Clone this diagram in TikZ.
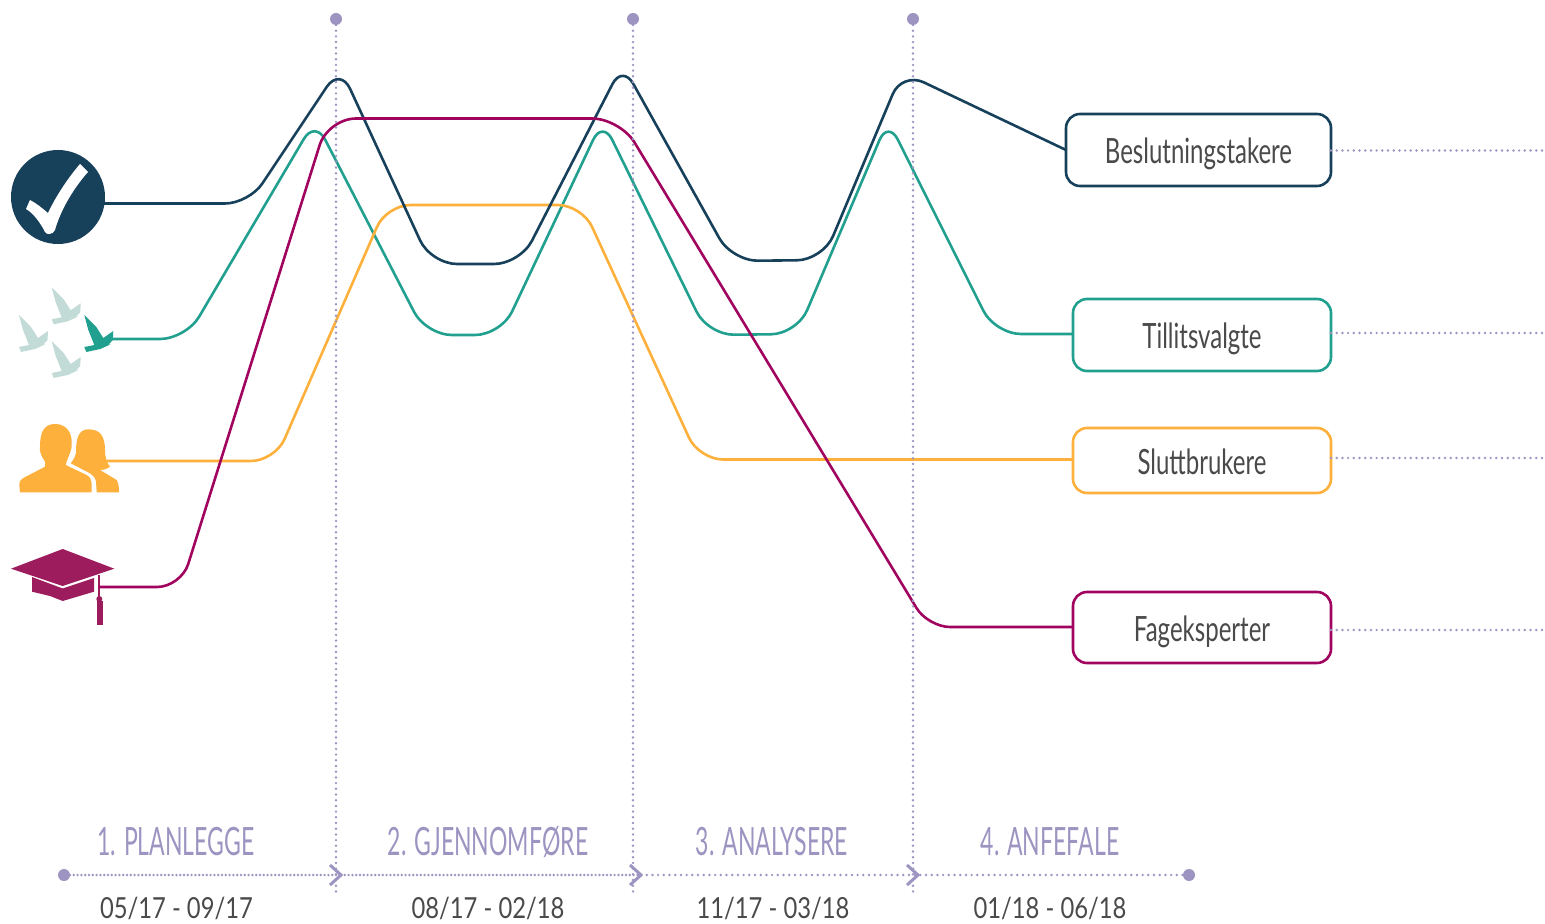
\documentclass[tikz,border=0pt]{standalone}
\usepackage{fontspec}
\newfontfamily\phasefont[FakeStretch=0.59]{Lato}
\newfontfamily\boxfont[FakeStretch=0.69]{Lato}
\newfontfamily\datefont[FakeStretch=0.82]{Lato}
\usetikzlibrary{calc}
\definecolor{dkblue}{HTML}{17405A}
\definecolor{tealc}{HTML}{22A08F}
\definecolor{orangec}{HTML}{FDB13C}
\definecolor{magc}{HTML}{A0045F}
\definecolor{capc}{HTML}{9C1C5E}
\definecolor{lav}{HTML}{9D94C1}
\definecolor{birdl}{HTML}{C2DBD6}
\definecolor{txt}{HTML}{4A4A4A}
\tikzset{
  flow/.style={line width=1.3pt,line join=round},
  dots/.style={lav,line width=1.35pt,line cap=round,dash pattern=on 0pt off 2.85pt},
  dotsdense/.style={lav,line width=1.35pt,line cap=round,dash pattern=on 0pt off 1.9pt},
  endpt/.style={circle,fill=lav,draw=none,inner sep=0pt,outer sep=0pt,minimum size=6pt},
  stakebox/.style={draw=#1,fill=white,line width=1.3pt,rounded corners=7pt,inner sep=0pt,outer sep=0pt,
    text=txt,font=\boxfont\fontsize{17.4}{20}\selectfont,text height=15pt,text depth=1pt,align=center},
  phase/.style={anchor=base,text=lav,font=\phasefont\fontsize{19.5}{22}\selectfont,inner sep=0pt},
  datelbl/.style={anchor=base,text=txt,font=\datefont\fontsize{14.5}{17}\selectfont,inner sep=0pt},
  chev/.style={lav,line width=1.5pt},
  bird/.pic={\fill[pic actions] (0,0) -- (12,12) -- (19,23) -- (29,16) -- (28.5,25) -- (24,30) -- (27,29) -- (16,34) -- (2,37) -- (0,32) -- (10,30) -- (4,15) -- cycle;}
}
\begin{document}
\begin{tikzpicture}[x=0.5pt,y=-0.5pt]
\useasboundingbox (0,0) rectangle (1545,924);
% icons
\node[circle,fill=dkblue,inner sep=0pt,outer sep=0pt,minimum size=47pt] (check) at (58,197) {};
\fill[white] (88,172) -- (80,164) .. controls (68,178) and (56,196) .. (48,213) .. controls (42,208) and (36,203) .. (30,200) -- (26,209) .. controls (33,213) and (40,222) .. (45,232) .. controls (46,235) and (53,235) .. (55,230) .. controls (60,212) and (72,190) .. (88,172) -- cycle;
\pic[birdl] at (51.7,287.3) {bird};
\pic[birdl] at (19,315) {bird};
\pic[birdl] at (51.7,341) {bird};
\pic[tealc] at (84.3,315) {bird};
\fill[orangec] (20,492.3) -- (19.3,485) .. controls (19.5,481) and (21,479) .. (23.3,478) -- (45,466.7) -- (45,461.7) .. controls (41,456) and (39,450) .. (40,446.7) .. controls (40,432) and (44,424) .. (55,424) .. controls (66,424) and (72,432) .. (71.7,443.3) .. controls (72,452) and (68,456) .. (66.7,461.7) -- (65.7,465) -- (86.7,475) .. controls (90,477) and (91.7,480) .. (91.7,483.3) -- (91.7,492.3) -- cycle;
\fill[orangec] (96.7,492.3) -- (96,481.7) .. controls (95.5,478) and (93,475) .. (90,473.3) -- (70.7,463.3) .. controls (75,458) and (76,454) .. (76,451.7) .. controls (76,440) and (78,429.3) .. (88.3,429.3) .. controls (100,429.3) and (105,436) .. (105,450) .. controls (105,458) and (107,463) .. (110,466.7) .. controls (107,469) and (103,470) .. (100,470) -- (116.7,480) .. controls (118,482) and (119,486) .. (119,492.3) -- cycle;
\fill[capc] (62.7,549) -- (114.3,568.7) -- (62.7,586) -- (11,568.7) -- cycle;
\fill[capc] (32,577) -- (62.7,588.5) -- (94,578) -- (94,591.7) -- (62.7,601) -- (50,596) -- (32,591.7) -- cycle;
\draw[capc,line width=1pt] (99.3,575) -- (99.3,600);
\fill[capc] (99.3,599) circle (1.5pt);
\fill[capc] (97,601) rectangle (102.7,625);
\coordinate (ic1) at (104,203.5);
\coordinate (ic2) at (108,339);
\coordinate (ic3) at (105,461);
\coordinate (ic4) at (98,587);
% boxes
\node[stakebox=dkblue,minimum width=132.5pt,minimum height=36pt] (b1) at (1198.5,150) {Beslutningstakere};
\node[stakebox=tealc,minimum width=129pt,minimum height=36pt] (b2) at (1202,335) {Tillitsvalgte};
\node[stakebox=orangec,minimum width=129pt,minimum height=32.5pt] (b3) at (1202,460.5) {Sluttbrukere};
\node[stakebox=magc,minimum width=129pt,minimum height=35.5pt] (b4) at (1202,627.5) {Fageksperter};
% flow lines
\draw[flow,tealc] (ic2) [rounded corners=13pt] -- (186,339) [rounded corners=11pt] -- (315,120) [rounded corners=13pt] -- (426,335) -- (501,335) [rounded corners=11pt] -- (602.5,120) [rounded corners=13pt] -- (708,335) -- (797,334) [rounded corners=11pt] -- (888,120) [rounded corners=13pt] -- (995,334) -- (b2.west |- 0,334);
\draw[flow,orangec,rounded corners=12pt] (ic3) -- (275,461) -- (386.5,205) -- (582,205) -- (699,459.5) -- (b3.west |- 0,459.5);
\draw[flow,dkblue] (ic1) [rounded corners=12pt] -- (249,203.5) [rounded corners=12pt] -- (340,67) [rounded corners=13pt] -- (431,264) -- (520,264) [rounded corners=11pt] -- (622.5,64.5) [rounded corners=13pt] -- (732,261) -- (823,260) [rounded corners=12pt] -- (902,72) -- (b1.west);
\draw[flow,magc,rounded corners=12pt] (ic4) -- (181,587) [rounded corners=14pt] -- (328,118.5) -- (620,118.5) [rounded corners=11pt] -- (928,627) -- (b4.west |- 0,627);
% dotted axes
\node[endpt] (t1) at (336,19) {};
\node[endpt] (t2) at (633,19) {};
\node[endpt] (t3) at (913,19) {};
\coordinate (u1) at (336,897);
\coordinate (u2) at (633,897);
\coordinate (u3) at (913,897);
\draw[dots] (t1) -- (u1);
\draw[dots] (t2) -- (u2);
\draw[dots] (t3) -- (u3);
\node[endpt] (s0) at (64,875) {};
\node[endpt] (s4) at (1189,875) {};
\coordinate (a1) at (341,875);
\coordinate (a2) at (641,875);
\coordinate (a3) at (918,875);
\draw[dotsdense] (s0) -- (a1);
\draw[dotsdense] (a1) -- (a2);
\draw[dots] (a2) -- (s4);
\draw[chev] ($(a1)+(-11,-10)$) -- (a1) -- ($(a1)+(-11,10)$);
\draw[chev] ($(a2)+(-11,-10)$) -- (a2) -- ($(a2)+(-11,10)$);
\draw[chev] ($(a3)+(-11,-10)$) -- (a3) -- ($(a3)+(-11,10)$);
% dotted tails
\coordinate (r1) at (1545,150.5);
\coordinate (r2) at (1545,333);
\coordinate (r3) at (1545,458);
\coordinate (r4) at (1545,630);
\draw[dots] (b1.east |- r1) -- (r1);
\draw[dots] (b2.east |- r2) -- (r2);
\draw[dots] (b3.east |- r3) -- (r3);
\draw[dots] (b4.east |- r4) -- (r4);
% labels
\node[phase] (p1) at (176,855) {1. PLANLEGGE};
\node[phase] (p2) at (488,855) {2. GJENNOMFØRE};
\node[phase] (p3) at (772,855) {3. ANALYSERE};
\node[phase] (p4) at (1050,855) {4. ANFEFALE};
\node[datelbl] (d1) at (176.5,918) {05/17 - 09/17};
\node[datelbl] (d2) at (488,918) {08/17 - 02/18};
\node[datelbl] (d3) at (773,918) {11/17 - 03/18};
\node[datelbl] (d4) at (1050,918) {01/18 - 06/18};
\end{tikzpicture}
\end{document}
